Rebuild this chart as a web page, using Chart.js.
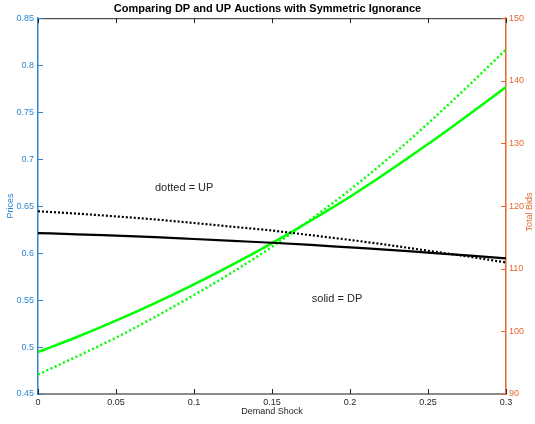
<!DOCTYPE html>
<html>
<head>
<meta charset="utf-8">
<script src="https://cdn.jsdelivr.net/npm/chart.js@4.4.1/dist/chart.umd.min.js"></script>
<style>
  html, body { margin: 0; padding: 0; background: #fff; }
  #wrap { width: 535px; height: 424px; }
</style>
</head>
<body>
<div id="wrap"><canvas id="auctionChart" width="535" height="424"></canvas></div>
<script>
// demand shock values along the x axis
const shock = [0, 0.025, 0.05, 0.075, 0.1, 0.125, 0.15, 0.175, 0.2, 0.225, 0.25, 0.275, 0.3];

// prices (left axis)
const dpPrice = [0.6213, 0.6200, 0.6185, 0.6170, 0.6150, 0.6130, 0.6110, 0.6087, 0.6060, 0.6035, 0.6005, 0.5975, 0.5943];
const upPrice = [0.6445, 0.6420, 0.6390, 0.6358, 0.6320, 0.6280, 0.6240, 0.6190, 0.6140, 0.6085, 0.6025, 0.5965, 0.5900];

// total bids (right axis)
const dpBids = [96.7, 99.1, 101.7, 104.5, 107.5, 110.7, 114.1, 117.7, 121.5, 125.6, 129.9, 134.4, 139.0];
const upBids = [93.1, 96.0, 99.0, 102.3, 105.8, 109.5, 113.5, 117.9, 122.6, 127.7, 133.2, 139.0, 145.0];

// tick values
const xTicks = [0, 0.05, 0.1, 0.15, 0.2, 0.25, 0.3];
const priceTicks = [0.45, 0.5, 0.55, 0.6, 0.65, 0.7, 0.75, 0.8, 0.85];
const bidTicks = [90, 100, 110, 120, 130, 140, 150];

const leftColor = "#2f86cf";
const rightColor = "#e3692f";
const FONT = "'Liberation Sans', Arial, Helvetica, sans-serif";

function pts(ys) {
    return shock.map((x, i) => ({ x: x, y: ys[i] }));
}
function fmt(v) {
    return String(+v.toFixed(3));
}

// text notes, in data coordinates (x, price)
const notes = [
    { text: "dotted = UP", x: 0.075, y: 0.669 },
    { text: "solid = DP", x: 0.1755, y: 0.551 }
];

// MATLAB style box: inward ticks, top border, right label, notes
const matlabBox = {
    id: "matlabBox",
    afterDraw(chart) {
        const ctx = chart.ctx;
        const a = chart.chartArea;
        const sx = chart.scales.x, sl = chart.scales.yPrice, sr = chart.scales.yBids;
        ctx.save();
        ctx.lineWidth = 1;
        // top border
        ctx.strokeStyle = "#262626";
        ctx.beginPath();
        ctx.moveTo(a.left, a.top + 0.5);
        ctx.lineTo(a.right, a.top + 0.5);
        ctx.stroke();
        // x ticks, top and bottom
        xTicks.forEach(v => {
            const p = Math.round(sx.getPixelForValue(v)) + 0.5;
            ctx.beginPath();
            ctx.moveTo(p, a.bottom); ctx.lineTo(p, a.bottom - 5);
            ctx.moveTo(p, a.top); ctx.lineTo(p, a.top + 5);
            ctx.stroke();
        });
        ctx.strokeStyle = leftColor;
        priceTicks.forEach(v => {
            const p = Math.round(sl.getPixelForValue(v)) + 0.5;
            ctx.beginPath();
            ctx.moveTo(a.left, p); ctx.lineTo(a.left + 5, p);
            ctx.stroke();
        });
        ctx.strokeStyle = rightColor;
        bidTicks.forEach(v => {
            const p = Math.round(sr.getPixelForValue(v)) + 0.5;
            ctx.beginPath();
            ctx.moveTo(a.right, p); ctx.lineTo(a.right - 5, p);
            ctx.stroke();
        });
        // right axis title, reading bottom to top
        ctx.fillStyle = rightColor;
        ctx.font = "9px " + FONT;
        ctx.textAlign = "center";
        ctx.textBaseline = "middle";
        ctx.translate(529.5, (a.top + a.bottom) / 2 + 6);
        ctx.rotate(-Math.PI / 2);
        ctx.fillText("Total Bids", 0, 0);
        ctx.setTransform(1, 0, 0, 1, 0, 0);
        // notes
        ctx.fillStyle = "#262626";
        ctx.font = "11px " + FONT;
        ctx.textAlign = "left";
        notes.forEach(n => {
            ctx.fillText(n.text, sx.getPixelForValue(n.x), sl.getPixelForValue(n.y));
        });
        ctx.restore();
    }
};

const ctx = document.getElementById("auctionChart").getContext("2d");

new Chart(ctx, {
    type: "line",
    data: {
        datasets: [
            { label: "DP price", data: pts(dpPrice), yAxisID: "yPrice", borderColor: "#000", borderWidth: 2.2 },
            { label: "UP price", data: pts(upPrice), yAxisID: "yPrice", borderColor: "#000", borderWidth: 2.2, borderDash: [2, 2] },
            { label: "DP bids", data: pts(dpBids), yAxisID: "yBids", borderColor: "#00ff00", borderWidth: 2.5 },
            { label: "UP bids", data: pts(upBids), yAxisID: "yBids", borderColor: "#00ff00", borderWidth: 2.5, borderDash: [2, 2.6] }
        ]
    },
    options: {
        responsive: false,
        animation: false,
        layout: { padding: 0 },
        elements: {
            point: { radius: 0 },
            line: { cubicInterpolationMode: "monotone", fill: false }
        },
        plugins: {
            legend: { display: false },
            tooltip: { enabled: false },
            title: {
                display: true,
                text: "Comparing DP and UP Auctions with Symmetric Ignorance",
                color: "#000",
                font: { family: FONT, size: 11, weight: "bold", lineHeight: 1.2 },
                padding: { top: 2.5, bottom: 2.5 }
            }
        },
        scales: {
            x: {
                type: "linear",
                min: 0, max: 0.3,
                afterBuildTicks: s => { s.ticks = xTicks.map(v => ({ value: v })); },
                afterFit: s => { s.height = 30; },
                ticks: { color: "#262626", font: { family: FONT, size: 9 }, padding: 3, maxRotation: 0, callback: fmt },
                grid: { display: true, drawOnChartArea: false, drawTicks: false },
                border: { display: true, color: "#8a8a8a", width: 2 },
                title: { display: true, text: "Demand Shock", color: "#262626", font: { family: FONT, size: 9 }, padding: { top: 0, bottom: 7 } }
            },
            yPrice: {
                type: "linear",
                position: "left",
                min: 0.45, max: 0.85,
                afterBuildTicks: s => { s.ticks = priceTicks.map(v => ({ value: v })); },
                afterFit: s => { s.width = 38; },
                ticks: { color: leftColor, font: { family: FONT, size: 9 }, padding: 4, callback: fmt },
                grid: { display: true, drawOnChartArea: false, drawTicks: false },
                border: { display: true, color: leftColor, width: 1.5 },
                title: { display: true, text: "Prices", color: leftColor, font: { family: FONT, size: 9 }, padding: { top: 5.5, bottom: 0 } }
            },
            yBids: {
                type: "linear",
                position: "right",
                min: 90, max: 150,
                afterBuildTicks: s => { s.ticks = bidTicks.map(v => ({ value: v })); },
                afterFit: s => { s.width = 29; },
                ticks: { color: rightColor, font: { family: FONT, size: 9 }, padding: 3, callback: fmt },
                grid: { display: true, drawOnChartArea: false, drawTicks: false },
                border: { display: true, color: rightColor, width: 1.5 }
            }
        }
    },
    plugins: [matlabBox]
});
</script>
</body>
</html>
